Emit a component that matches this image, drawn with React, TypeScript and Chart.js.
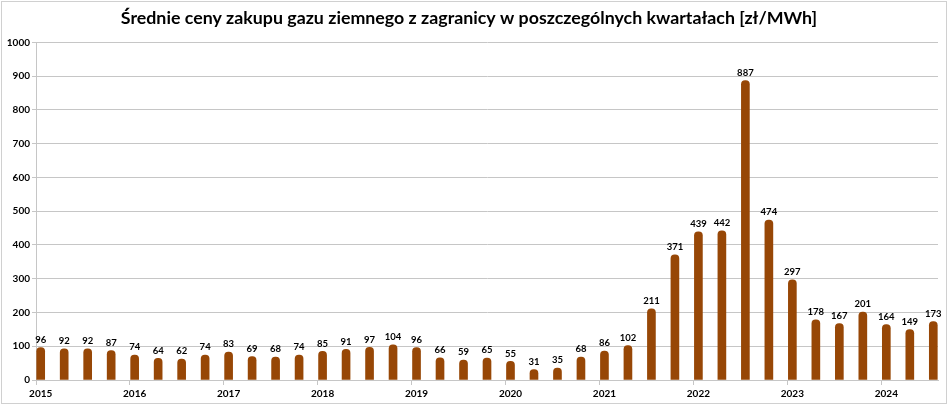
import { useEffect, useRef } from "react";
import { Chart, registerables } from "chart.js";

Chart.register(...registerables);

const TITLE = "Średnie ceny zakupu gazu ziemnego z zagranicy w poszczególnych kwartałach [zł/MWh]";
const FIRST_YEAR = 2015;
const QUARTERS_PER_YEAR = 4;
const PRICES = [
  96, 92, 92, 87, 74, 64, 62, 74, 83, 69, 68, 74, 85, 91, 97, 104, 96, 66, 59, 65,
  55, 31, 35, 68, 86, 102, 211, 371, 439, 442, 887, 474, 297, 178, 167, 201, 164, 149, 173,
];
const Y_MIN = 0;
const Y_MAX = 1000;
const Y_STEP = 100;

const FONT = "Lato, 'Open Sans', sans-serif";
const BAR_COLOR = "#974706";
const GRID_COLOR = "#c6c6c6";

const valueLabels = {
  id: "valueLabels",
  afterDatasetsDraw(chart: any) {
    const ctx = chart.ctx;
    const meta = chart.getDatasetMeta(0);
    ctx.save();
    ctx.font = `bold 9.5px ${FONT}`;
    ctx.fillStyle = "#000";
    ctx.textAlign = "center";
    ctx.textBaseline = "bottom";
    meta.data.forEach((el: any, i: number) => {
      ctx.fillText(String(PRICES[i]), el.x, el.y - 3);
    });
    ctx.restore();
  },
};

export default function App() {
  const ref = useRef<HTMLCanvasElement | null>(null);

  useEffect(() => {
    if (!ref.current) return;
    const data = PRICES.map((v, i) => ({ x: i + 0.2, y: v }));
    const chart = new Chart(ref.current, {
      type: "bar",
      data: {
        datasets: [
          {
            data,
            backgroundColor: BAR_COLOR,
            borderWidth: 0,
            borderRadius: { topLeft: 4, topRight: 4, bottomLeft: 0, bottomRight: 0 },
            borderSkipped: "bottom",
            barThickness: 8,
          },
        ],
      },
      options: {
        animation: false,
        responsive: false,
        maintainAspectRatio: false,
        devicePixelRatio: 1,
        layout: { padding: { left: 0, right: 10, top: 0, bottom: 0 } },
        plugins: {
          legend: { display: false },
          tooltip: { enabled: false },
          title: {
            display: true,
            text: TITLE,
            color: "#000",
            font: { family: FONT, size: 17.8, weight: "bold", lineHeight: 1.2 },
            padding: { top: 8, bottom: 13 },
          },
        },
        scales: {
          x: {
            type: "linear",
            offset: false,
            min: 0,
            max: 38.4,
            afterFit(scale: any) {
              scale.height = 26;
            },
            grid: {
              offset: false,
              drawOnChartArea: false,
              drawTicks: true,
              tickLength: 5,
              color: GRID_COLOR,
            },
            border: { color: GRID_COLOR, width: 1 },
            ticks: {
              stepSize: QUARTERS_PER_YEAR,
              includeBounds: false,
              autoSkip: false,
              maxRotation: 0,
              padding: 3,
              labelOffset: 4.7,
              color: "#000",
              font: { family: FONT, size: 10, weight: "bold" },
              callback(value: any) {
                const v = Number(value);
                if (Math.abs(v % QUARTERS_PER_YEAR) > 1e-6) return "";
                return String(FIRST_YEAR + v / QUARTERS_PER_YEAR);
              },
            },
          },
          y: {
            min: Y_MIN,
            max: Y_MAX,
            afterFit(scale: any) {
              scale.width = 36;
            },
            grid: {
              color: GRID_COLOR,
              tickLength: 4,
              drawTicks: true,
            },
            border: { color: GRID_COLOR, width: 1 },
            ticks: {
              stepSize: Y_STEP,
              padding: 2,
              color: "#000",
              font: { family: FONT, size: 10, weight: "bold" },
              callback(value: any) {
                return String(value);
              },
            },
          },
        },
      },
      plugins: [valueLabels],
    });
    return () => chart.destroy();
  }, []);

  return (
    <div
      style={{
        position: "absolute",
        left: 0,
        top: 0,
        width: 948,
        height: 406,
        background: "#fff",
      }}
    >
      <div
        style={{
          position: "absolute",
          left: 1,
          top: 1,
          width: 944,
          height: 401,
          border: "1px solid #d0d0d0",
        }}
      />
      <canvas ref={ref} width={948} height={406} style={{ position: "absolute", left: 0, top: 0 }} />
    </div>
  );
}
